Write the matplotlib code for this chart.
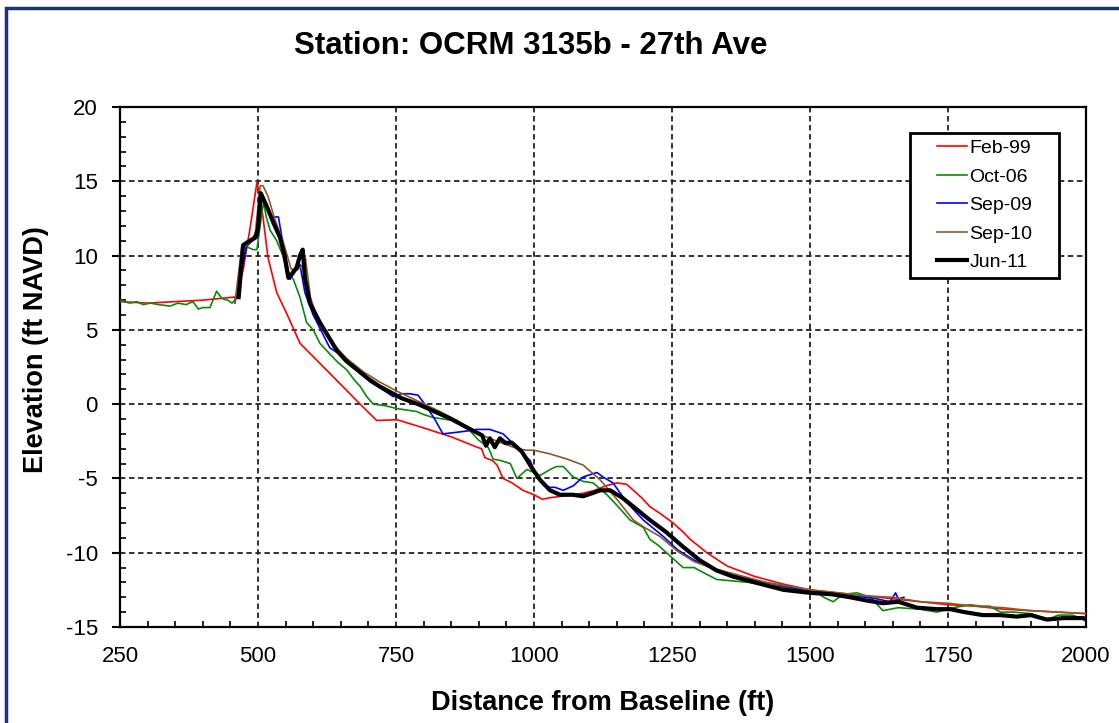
import numpy as np
import matplotlib
matplotlib.use("Agg")
import matplotlib.pyplot as plt
from matplotlib.patches import Rectangle
from matplotlib.ticker import MultipleLocator

plt.rcParams["font.family"] = ["Liberation Sans", "DejaVu Sans"]
plt.rcParams["axes.unicode_minus"] = False

# --- Data ------------------------------------------------------------------
feb99_x = [250, 300, 350, 400, 455, 460, 473, 485, 498, 503, 509, 518, 534, 552, 576,
           600, 640, 685, 715, 752, 800, 850, 897, 905, 911, 925, 933, 944, 960, 980,
           1000, 1015, 1029, 1050, 1070, 1089, 1110, 1130, 1150, 1168, 1180, 1195, 1210,
           1230, 1252, 1270, 1283, 1300, 1313, 1350, 1400, 1450, 1500, 1550, 1600, 1650,
           1700, 1750, 1800, 1850, 1900, 1950, 2000]
feb99_y = [6.9, 6.8, 6.9, 7.0, 7.2, 7.2, 9.0, 11.7, 14.9, 14.2, 12.6, 9.9, 7.5, 6.1, 4.1,
           3.2, 1.7, 0.0, -1.1, -1.05, -1.6, -2.2, -2.9, -3.0, -3.6, -3.8, -4.1, -5.0, -5.3, -5.8,
           -6.1, -6.4, -6.3, -6.2, -6.1, -6.0, -5.8, -5.5, -5.3, -5.4, -5.8, -6.3, -6.9,
           -7.4, -8.0, -8.6, -9.1, -9.6, -10.0, -10.9, -11.6, -12.1, -12.5, -12.7, -12.9, -13.1,
           -13.3, -13.5, -13.6, -13.8, -13.9, -14.0, -14.1]

oct06_x = [250, 258, 268, 280, 292, 305, 320, 341, 355, 370, 382, 392, 400, 413, 425, 435,
           445, 453, 458, 465, 471, 479, 491, 498, 507, 510, 515, 522, 534, 545, 552, 564,
           576, 588, 600, 612, 632, 645, 661, 675, 685, 697, 709, 730, 752, 770, 788, 800,
           817, 835, 853, 865, 879, 899, 917, 926, 940, 957, 969, 987, 1000, 1011, 1029,
           1041, 1053, 1071, 1089, 1107, 1132, 1150, 1174, 1198, 1210, 1225, 1240, 1255,
           1270, 1290, 1310, 1331, 1360, 1390, 1422, 1450, 1480, 1500, 1513, 1525, 1542,
           1560, 1585, 1610, 1632, 1660, 1700, 1730, 1760, 1790, 1810, 1826, 1845, 1870,
           1900, 1929, 1950, 1975, 2000]
oct06_y = [7.0, 6.9, 6.8, 6.9, 6.7, 6.8, 6.7, 6.6, 6.8, 6.7, 6.9, 6.4, 6.5, 6.5, 7.6, 7.1,
           7.0, 6.8, 7.0, 8.0, 9.2, 10.6, 10.4, 10.4, 12.9, 13.6, 12.6, 11.7, 11.0, 10.0, 9.0, 8.4,
           7.2, 5.5, 5.0, 4.1, 3.3, 2.8, 2.3, 1.6, 1.2, 0.5, 0.0, -0.1, -0.3, -0.4, -0.5, -0.7,
           -0.9, -1.0, -1.1, -1.3, -1.6, -2.4, -2.9, -3.7, -3.8, -4.0, -5.0, -4.4, -4.6, -4.8, -4.4,
           -4.2, -4.2, -4.9, -5.2, -5.3, -6.1, -6.8, -7.8, -8.3, -9.1, -9.5, -10.0, -10.5,
           -11.0, -11.0, -11.4, -11.8, -11.9, -12.0, -12.2, -12.3, -12.5, -12.7, -12.7, -13.0, -13.3,
           -12.8, -12.7, -13.0, -13.9, -13.7, -13.8, -14.0, -13.7, -13.5, -13.6, -13.6, -14.0, -14.0,
           -14.1, -14.5, -14.2, -14.2, -14.5]

sep09_x = [458, 470, 479, 490, 500, 507, 515, 525, 537, 543, 558, 567, 576, 585, 600, 615,
           630, 650, 667, 685, 703, 725, 745, 760, 775, 790, 806, 820, 835, 859, 880, 897,
           920, 944, 969, 993, 1005, 1020, 1029, 1038, 1053, 1071, 1089, 1114, 1125, 1143,
           1168, 1198, 1234, 1260, 1290, 1320, 1350, 1380, 1420, 1460, 1500, 1540, 1580,
           1620, 1645, 1655, 1660, 1670]
sep09_y = [6.8, 8.8, 10.6, 11.0, 11.3, 14.2, 13.5, 12.6, 12.6, 11.3, 8.4, 8.9, 9.4, 7.5, 6.0, 4.9,
           3.8, 3.3, 2.8, 2.2, 1.5, 1.0, 0.5, 0.7, 0.7, 0.6, -0.2, -1.0, -2.0, -1.9, -1.8, -1.7,
           -1.7, -2.0, -2.9, -3.8, -4.9, -5.5, -5.6, -5.6, -5.8, -5.5, -4.9, -4.6, -4.9, -5.3,
           -6.6, -7.8, -8.9, -9.8, -10.5, -11.0, -11.4, -11.7, -12.0, -12.3, -12.6, -12.7, -12.9,
           -13.1, -13.3, -12.7, -13.1, -13.0]

sep10_x = [458, 471, 476, 485, 495, 504, 509, 518, 530, 545, 560, 570, 580, 586, 595, 605,
           620, 640, 660, 690, 720, 750, 790, 830, 860, 900, 940, 970, 987, 1000, 1029, 1060,
           1089, 1120, 1150, 1180, 1200, 1228, 1260, 1290, 1320, 1370, 1420, 1470, 1500,
           1550, 1600, 1650, 1700, 1750, 1800, 1850, 1900, 1950, 2000]
sep10_y = [6.8, 10.7, 10.6, 10.8, 11.5, 14.7, 14.7, 14.0, 12.5, 11.0, 9.1, 9.0, 9.3, 9.8, 7.2, 6.0,
           4.9, 3.9, 3.1, 2.2, 1.5, 0.9, 0.2, -0.5, -1.1, -2.0, -2.6, -3.0, -3.1, -3.1, -3.35, -3.7,
           -4.1, -5.1, -6.4, -7.8, -8.3, -8.9, -9.9, -10.6, -11.0, -11.5, -12.0, -12.3, -12.5,
           -12.7, -12.9, -13.0, -13.3, -13.4, -13.6, -13.7, -13.9, -14.0, -14.1]

jun11_x = [465, 473, 485, 495, 500, 505, 516, 528, 540, 548, 555, 562, 570, 576, 581, 585,
           594, 612, 630, 643, 660, 680, 700, 720, 740, 760, 790, 820, 850, 880, 906, 913,
           920, 929, 938, 948, 960, 978, 998, 1011, 1029, 1047, 1070, 1089, 1105, 1120, 1138,
           1160, 1180, 1210, 1239, 1270, 1300, 1331, 1360, 1400, 1452, 1500, 1540, 1573,
           1600, 1632, 1660, 1694, 1730, 1754, 1780, 1813, 1844, 1875, 1900, 1929, 1960,
           1995, 2000]
jun11_y = [7.2, 10.7, 11.0, 11.2, 11.8, 14.2, 13.3, 12.2, 11.2, 10.0, 8.5, 8.8, 9.2, 10.0, 10.4, 8.5,
           6.8, 5.5, 4.4, 3.6, 2.9, 2.3, 1.7, 1.2, 0.8, 0.4, 0.0, -0.5, -1.0, -1.6, -2.1, -2.8,
           -2.3, -2.9, -2.3, -2.6, -2.6, -3.2, -4.4, -5.1, -5.8, -6.1, -6.1, -6.2, -6.0, -5.8, -5.8,
           -6.3, -6.9, -7.8, -8.6, -9.6, -10.5, -11.2, -11.6, -12.0, -12.5, -12.7, -12.8, -13.0,
           -13.2, -13.4, -13.3, -13.7, -13.8, -13.8, -14.0, -14.2, -14.2, -14.3, -14.2, -14.5, -14.4,
           -14.4, -14.5]

series = [
    ("Feb-99", feb99_x, feb99_y, "#ff0000", 1.2),
    ("Oct-06", oct06_x, oct06_y, "#0a8a0a", 1.2),
    ("Sep-09", sep09_x, sep09_y, "#0000ff", 1.2),
    ("Sep-10", sep10_x, sep10_y, "#8b5a2b", 1.2),
    ("Jun-11", jun11_x, jun11_y, "#000000", 3.0),
]

fig = plt.figure(figsize=(11.19, 7.23), dpi=100)
ax = fig.add_axes([120 / 1119, 1 - 627 / 723, 966 / 1119, 520 / 723])

for label, xs, ys, col, lw in series:
    ax.plot(xs, ys, color=col, linewidth=lw, label=label, zorder=3)

ax.set_xlim(250, 2000)
ax.set_ylim(-15, 20)
ax.xaxis.set_major_locator(MultipleLocator(250))
ax.xaxis.set_minor_locator(MultipleLocator(50))
ax.yaxis.set_major_locator(MultipleLocator(5))
ax.yaxis.set_minor_locator(MultipleLocator(1))

ax.grid(which="major", color="#222222", linestyle=(0, (3, 2)), linewidth=1.3, zorder=1)
ax.tick_params(axis="y", which="major", direction="out", length=6, width=1.5,
               labelsize=16, pad=10)
ax.tick_params(axis="x", which="major", length=0, labelsize=16, pad=14)
ax.tick_params(which="minor", direction="in", length=4, width=1.2)
for s in ax.spines.values():
    s.set_linewidth(1.6)

ax.set_xlabel("Distance from Baseline (ft)", fontsize=19.5, fontweight="bold", labelpad=16)
ax.set_ylabel("Elevation (ft NAVD)", fontsize=19.5, fontweight="bold")
ax.yaxis.set_label_coords(-0.074, 0.533)

fig.text(0.4745, 0.937, "Station: OCRM 3135b - 27th Ave", ha="center", va="center",
         fontsize=22.5, fontweight="bold")

# legend frame drawn by hand so the entries sit centred in a wider box
ax.add_patch(Rectangle((0.8178, 0.671), 0.1542, 0.279, transform=ax.transAxes,
                       facecolor="white", edgecolor="black", linewidth=2.0, zorder=5))
leg = ax.legend(loc="center", bbox_to_anchor=(0.895, 0.8106), fontsize=14,
                frameon=False, handlelength=1.55, handletextpad=0.15,
                borderpad=0, labelspacing=0.56, borderaxespad=0)
leg.set_zorder(6)

# outer frame (left and top only visible)
fig.patches.append(Rectangle((6 / 1119, -0.2), 1.3, 1.2 - 8 / 723, transform=fig.transFigure,
                             fill=False, edgecolor="#1c3570", linewidth=2.5))

fig.savefig("out.png", dpi=100)
